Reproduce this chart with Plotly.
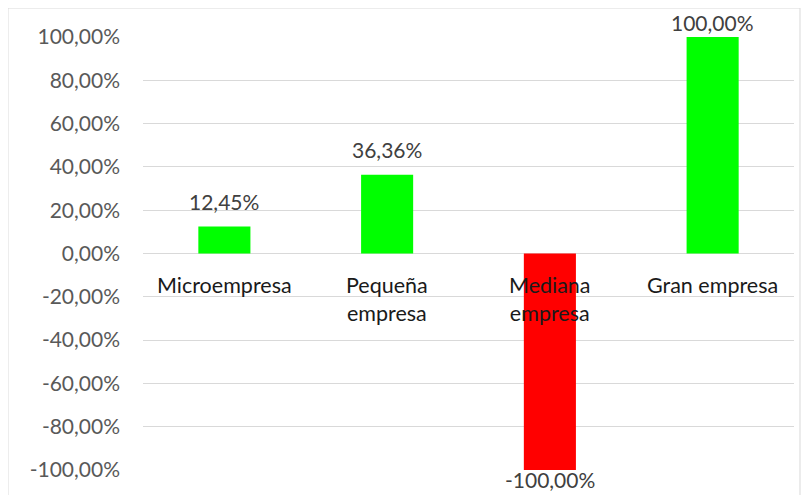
import plotly.graph_objects as go

categories = ["Microempresa", "Pequeña<br>empresa", "Mediana<br>empresa", "Gran empresa"]
values = [12.45, 36.36, -100.00, 100.00]
tick_vals = [-100, -80, -60, -40, -20, 0, 20, 40, 60, 80, 100]
tick_text = ["-100,00%", "-80,00%", "-60,00%", "-40,00%", "-20,00%", "0,00%",
             "20,00%", "40,00%", "60,00%", "80,00%", "100,00%"]

colors = ["#00FF00" if v >= 0 else "#FF0000" for v in values]

fig = go.Figure()
fig.add_trace(go.Bar(
    x=list(range(len(categories))), y=values,
    marker=dict(color=colors, line=dict(width=0)),
    width=0.32,
    cliponaxis=False,
))

for i, v in enumerate(values):
    if v >= 100:
        shift = 1
    elif v >= 0:
        shift = 12
    else:
        shift = 4
    fig.add_annotation(x=i, y=v, text=f"{v:.2f}%".replace(".", ","), showarrow=False,
                       yanchor="bottom" if v >= 0 else "top", yshift=shift, borderpad=0,
                       font=dict(family="Lato", size=21, color="#404040"))

for i, c in enumerate(categories):
    fig.add_annotation(x=i, y=0, text=c, showarrow=False, yanchor="top", yshift=-16,
                       font=dict(family="Lato", size=21.5, color="#1a1a1a"), align="center")

fig.add_shape(type="rect", xref="paper", yref="paper",
              x0=-0.2074, x1=1.0092, y0=-0.08, y1=1.067,
              line=dict(color="#d9d9d9", width=1), layer="below")

fig.update_layout(
    width=811, height=495,
    margin=dict(l=135, r=25, t=29, b=33, autoexpand=False),
    paper_bgcolor="white", plot_bgcolor="white",
    showlegend=False,
    xaxis=dict(range=[-0.5, 3.5], showticklabels=False, showgrid=False, zeroline=False,
               showline=False, automargin=False),
    yaxis=dict(range=[-100, 100], tickvals=tick_vals, ticktext=tick_text,
               showgrid=True, gridcolor="#d9d9d9", gridwidth=1, zeroline=True, zerolinecolor="#d9d9d9",
               zerolinewidth=1, tickfont=dict(family="Lato", size=21, color="#595959"),
               ticklabelstandoff=22, showline=False, automargin=False),
)

fig.write_html("out.html")
